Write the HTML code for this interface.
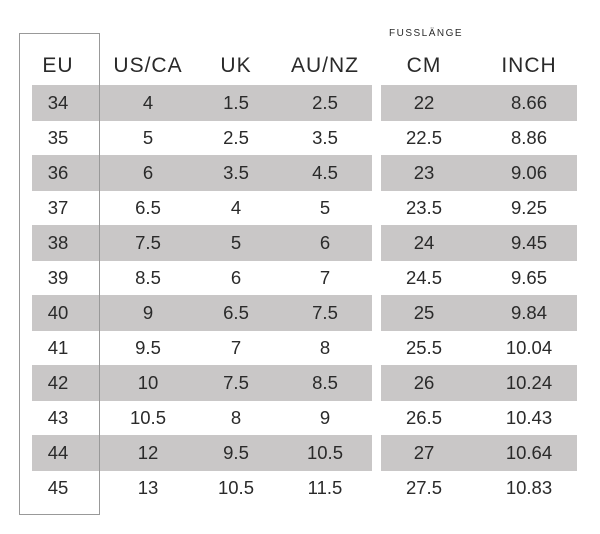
<!DOCTYPE html><html><head><style>
body{margin:0;width:600px;height:534px;background:#fff;position:relative;font-family:"Liberation Sans",sans-serif;color:#2a2a2a;overflow:hidden}
.g{position:absolute;background:#c9c7c7;height:36px}
.t{position:absolute;width:100px;text-align:center;font-size:18.5px;line-height:36px}
.h{position:absolute;width:110px;text-align:center;font-size:21px;top:54px;letter-spacing:1px}
</style></head><body>
<div style="position:absolute;left:19px;top:33px;width:79px;height:480px;border:1px solid #999;z-index:2"></div>
<div style="position:absolute;left:389px;top:28px;font-size:10px;letter-spacing:1.5px">FUSSLÄNGE</div>
<div id="c"></div>
<script>
var hs=[["EU",58],["US/CA",148],["UK",236],["AU/NZ",325],["CM",424],["INCH",529]];
var d=[[34,4,1.5,2.5,22,8.66],[35,5,2.5,3.5,22.5,8.86],[36,6,3.5,4.5,23,9.06],[37,6.5,4,5,23.5,9.25],[38,7.5,5,6,24,9.45],[39,8.5,6,7,24.5,9.65],[40,9,6.5,7.5,25,9.84],[41,9.5,7,8,25.5,"10.04"],[42,10,7.5,8.5,26,"10.24"],[43,10.5,8,9,26.5,"10.43"],[44,12,9.5,10.5,27,"10.64"],[45,13,10.5,11.5,27.5,"10.83"]];
var h="";hs.forEach(function(x){h+='<div class="h" style="left:'+(x[1]-55)+'px">'+x[0]+'</div>'});
d.forEach(function(r,i){var y=85+35*i;
if(i%2==0){h+='<div class="g" style="left:32px;width:340px;top:'+y+'px"></div><div class="g" style="left:381px;width:196px;top:'+y+'px"></div>';}
r.forEach(function(v,j){h+='<div class="t" style="left:'+(hs[j][1]-50)+'px;top:'+y+'px">'+v+'</div>'});});
document.getElementById("c").innerHTML=h;
</script>
</body></html>
